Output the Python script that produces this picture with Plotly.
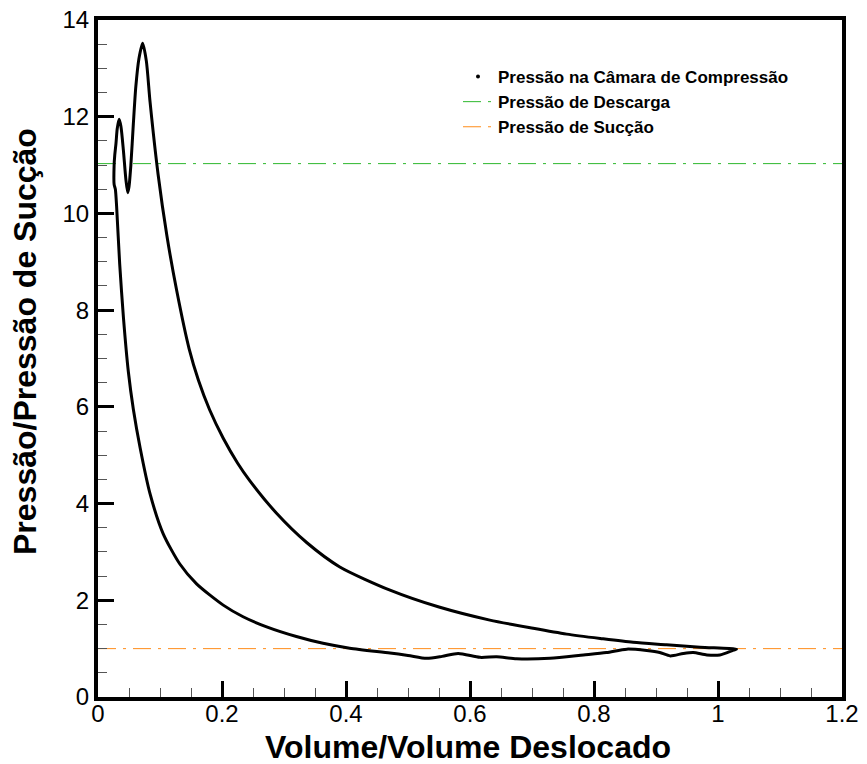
import plotly.graph_objects as go

# Pressure-volume loop (V/Vd, P/Ps)
volume = [1.030, 0.971, 0.917, 0.863, 0.810, 0.756, 0.702, 0.632, 0.550, 0.471,
          0.390, 0.337, 0.288, 0.245, 0.225, 0.202, 0.180, 0.162, 0.147, 0.127,
          0.111, 0.097, 0.084, 0.078, 0.072, 0.066, 0.061, 0.057, 0.053, 0.050,
          0.048, 0.045, 0.041, 0.037, 0.034, 0.031, 0.029, 0.027, 0.026, 0.026,
          0.028, 0.030, 0.035, 0.041, 0.049, 0.057, 0.068, 0.084, 0.105, 0.132,
          0.159, 0.202, 0.234, 0.272, 0.320, 0.363, 0.406, 0.471, 0.500, 0.530,
          0.555, 0.581, 0.616, 0.643, 0.675, 0.729, 0.783, 0.820, 0.853, 0.885,
          0.906, 0.923, 0.944, 0.960, 0.982, 1.003, 1.025, 1.030]
pressure = [0.99, 1.03, 1.08, 1.13, 1.21, 1.30, 1.42, 1.59, 1.86, 2.21,
            2.69, 3.19, 3.80, 4.47, 4.84, 5.35, 5.94, 6.55, 7.20, 8.40,
            9.55, 10.80, 12.30, 13.15, 13.52, 13.20, 12.62, 11.85, 11.00, 10.55,
            10.43, 10.70, 11.30, 11.80, 11.95, 11.75, 11.45, 11.20, 11.00, 10.60,
            10.50, 10.15, 8.95, 7.85, 6.72, 5.95, 5.15, 4.20, 3.38, 2.75,
            2.34, 1.90, 1.66, 1.45, 1.25, 1.11, 1.01, 0.91, 0.86, 0.80,
            0.84, 0.90, 0.82, 0.83, 0.79, 0.80, 0.87, 0.92, 0.99, 0.96,
            0.92, 0.85, 0.90, 0.92, 0.87, 0.87, 0.97, 0.99]

line_x = [0.0, 1.2]
discharge_level = [11.03, 11.03]
suction_level = [1.0, 1.0]

names = ["Pressão na Câmara de Compressão", "Pressão de Descarga", "Pressão de Sucção"]
x_title = "Volume/Volume Deslocado"
y_title = "Pressão/Pressão de Sucção"

FONT = "Liberation Sans, Arial, sans-serif"
GREEN = "#2eb82e"
ORANGE = "#ff8c1a"
DASH = "18px,7px,3px,7px"

fig = go.Figure()

fig.add_trace(go.Scatter(x=line_x, y=discharge_level, mode="lines", name=names[1],
                         line=dict(color=GREEN, width=1, dash=DASH), showlegend=False))
fig.add_trace(go.Scatter(x=line_x, y=suction_level, mode="lines", name=names[2],
                         line=dict(color=ORANGE, width=1, dash=DASH), showlegend=False))
fig.add_trace(go.Scatter(x=volume, y=pressure, mode="lines", name=names[0],
                         line=dict(color="black", width=3, shape="spline", smoothing=0.7),
                         showlegend=False))

# legend entries
fig.add_trace(go.Scatter(x=[None], y=[None], mode="markers", name=names[0],
                         marker=dict(color="black", size=4)))
fig.add_trace(go.Scatter(x=[None], y=[None], mode="lines", name=names[1],
                         line=dict(color=GREEN, width=1, dash=DASH)))
fig.add_trace(go.Scatter(x=[None], y=[None], mode="lines", name=names[2],
                         line=dict(color=ORANGE, width=1, dash=DASH)))

axis_common = dict(
    showline=True, linecolor="black", linewidth=4, mirror=True,
    ticks="inside", ticklen=16, tickwidth=3, tickcolor="black",
    showgrid=False, zeroline=False, tickmode="linear", tick0=0,
    tickfont=dict(family=FONT, size=24, color="black"),
)

fig.update_xaxes(range=[0, 1.2], dtick=0.2, ticklabelstandoff=-8,
                 minor=dict(tickmode="linear", tick0=0, dtick=0.05, ticklen=9, tickwidth=1.2,
                            tickcolor="#555555", ticks="inside", showgrid=False),
                 **axis_common)
fig.update_yaxes(range=[0, 14], dtick=2,
                 minor=dict(tickmode="linear", tick0=0, dtick=0.5, ticklen=9, tickwidth=1.2,
                            tickcolor="#555555", ticks="inside", showgrid=False),
                 **axis_common)

title_font = dict(family=FONT, size=32, color="black", weight="bold")
fig.add_annotation(text=x_title, xref="paper", yref="paper",
                   x=(468 - 98) / 744, y=(697 - 747) / 677,
                   xanchor="center", yanchor="middle", showarrow=False, font=title_font)
fig.add_annotation(text=y_title, xref="paper", yref="paper",
                   x=(25 - 98) / 744, y=(697 - 342) / 677, textangle=-90,
                   xanchor="center", yanchor="middle", showarrow=False, font=title_font)

fig.update_layout(
    width=867, height=764,
    margin=dict(l=98, r=25, t=20, b=67, autoexpand=False),
    plot_bgcolor="white", paper_bgcolor="white",
    legend=dict(x=(458 - 98) / 744, y=(697 - 59) / 677, xanchor="left", yanchor="top",
                bgcolor="rgba(0,0,0,0)", borderwidth=0, tracegroupgap=0,
                font=dict(family=FONT, size=17, color="black", weight="bold")),
)

fig.write_html("out.html", config={"displayModeBar": False},
               post_script="document.body.style.margin='0';document.body.style.overflow='hidden';")
